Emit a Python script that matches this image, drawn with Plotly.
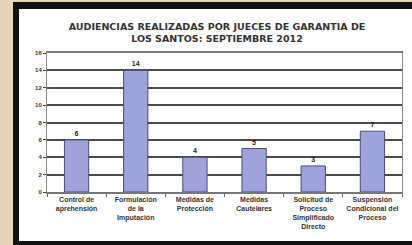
import plotly.graph_objects as go

categories = [
    "Control de<br>aprehensión",
    "Formulación<br>de la<br>Imputación",
    "Medidas de<br>Protección",
    "Medidas<br>Cautelares",
    "Solicitud de<br>Proceso<br>Simplificado<br>Directo",
    "Suspensión<br>Condicional del<br>Proceso",
]
values = [6, 14, 4, 5, 3, 7]
y_ticks = [0, 2, 4, 6, 8, 10, 12, 14, 16]
title_text = "AUDIENCIAS REALIZADAS POR JUECES DE GARANTIA DE<br>LOS SANTOS: SEPTIEMBRE 2012"

W, H = 412, 245
ML, MR, MT, MB = 47, 10, 53, 53
pw = W - ML - MR
ph = H - MT - MB

def px(x):
    return (x - ML) / pw

def py(y):
    return (H - MB - y) / ph

fig = go.Figure()
fig.add_trace(go.Bar(
    x=categories, y=values,
    marker=dict(color="#9fa3dc", line=dict(color="#4a4c70", width=1)),
    text=["<b>" + str(v) + "</b>" for v in values], textposition="outside",
    textfont=dict(family="Liberation Sans", size=7, color="#222"),
    cliponaxis=False, width=0.41,
))

fig.update_layout(
    width=W, height=H,
    margin=dict(l=ML, r=MR, t=MT, b=MB),
    paper_bgcolor="#e6d5b8",
    plot_bgcolor="#fffbd6",
    showlegend=False,
    title=dict(text="<b>" + title_text + "</b>", x=217 / W, xanchor="center",
               y=1 - 29.5 / H, yanchor="middle",
               font=dict(family="DejaVu Sans", size=9.5, color="#333")),
    font=dict(family="Liberation Sans", color="#333"),
    shapes=[
        dict(type="rect", xref="paper", yref="paper", layer="below",
             x0=px(13), x1=px(420), y0=py(245), y1=py(2),
             fillcolor="#111", line=dict(width=0)),
        dict(type="rect", xref="paper", yref="paper", layer="below",
             x0=px(19), x1=px(420), y0=py(241), y1=py(9),
             fillcolor="#ffffff", line=dict(width=0)),
    ],
)
fig.update_yaxes(
    range=[0, 16], tickvals=y_ticks, ticktext=["<b>%d</b>" % t for t in y_ticks],
    ticks="outside", ticklen=3, tickcolor="#444",
    showgrid=True, gridcolor="#4a4a4a", gridwidth=2,
    showline=True, linecolor="#888", linewidth=1, mirror=True,
    tickfont=dict(size=6, family="Liberation Sans", color="#333"),
    zeroline=False,
)
fig.update_xaxes(
    showline=True, linecolor="#777", linewidth=1.5, mirror=True,
    ticks="outside", ticklen=3, tickcolor="#666", tickson="boundaries",
    tickmode="array", tickvals=categories,
    ticktext=["<b>" + c.replace("<br>", "</b><br><b>") + "</b>" for c in categories],
    tickfont=dict(size=7, family="Liberation Sans", color="#333"),
    tickangle=0,
)
fig.write_html("out.html", config={"displayModeBar": False},
               post_script="document.body.style.margin='0';")
